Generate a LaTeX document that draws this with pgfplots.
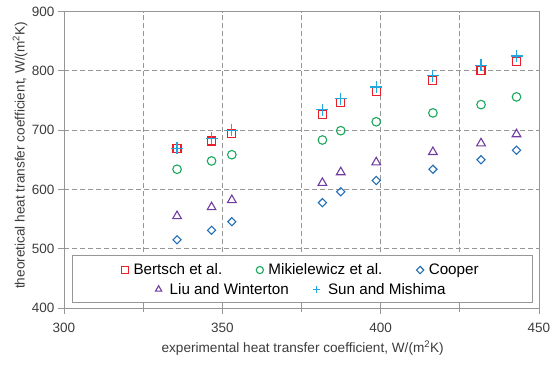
\documentclass[border=0pt]{standalone}
\usepackage{pgfplots}
\pgfplotsset{compat=1.18}
\usepackage{fontspec}
\setmainfont{Liberation Sans}
\definecolor{cB}{RGB}{232,32,42}
\definecolor{cM}{RGB}{26,168,92}
\definecolor{cC}{RGB}{31,110,182}
\definecolor{cL}{RGB}{112,60,160}
\definecolor{cS}{RGB}{33,168,222}
\definecolor{frame}{RGB}{150,150,150}
\definecolor{txt}{RGB}{60,60,60}
\pgfplotsset{
  legfont/.style={font=\fontsize{15.2}{18}\selectfont},
  myleg/.style={
    legend image code/.code={\path[##1] plot[mark size=3.6pt] coordinates {(4pt,0pt)};},
    legend image post style={line width=1.1pt},
  },
}
\begin{document}
\begin{tikzpicture}
\useasboundingbox (-64pt,-60pt) rectangle (486pt,308pt);
\begin{axis}[
  scale only axis, width=475pt, height=296.5pt,
  xmin=300, xmax=450, ymin=400, ymax=900,
  clip=false,
  xtick={300,350,400,450}, minor xtick={325,375,425},
  ytick={400,500,600,700,800,900},
  xmajorgrids, xminorgrids, ymajorgrids,
  grid style={frame, dash pattern=on 5pt off 3pt, line width=0.8pt},
  minor grid style={frame, dash pattern=on 5pt off 3pt, line width=0.8pt},
  axis line style={frame, line width=0.8pt},
  tick align=outside, tick pos=left,
  major tick length=6pt, minor tick length=4pt,
  every tick/.style={frame, line width=0.8pt},
  tick label style={font=\fontsize{13.5}{16}\selectfont, text=txt},
  xticklabel style={yshift=-6pt},
  /pgf/number format/assume math mode=true,
  xlabel={experimental heat transfer coefficient, W/(m\textsuperscript{2}K)},
  xlabel style={font=\fontsize{13.6}{16}\selectfont, text=txt, at={(axis description cs:0.5025,-0.135)}, anchor=center},
  ylabel={theoretical heat transfer coefficient, W/(m\textsuperscript{2}K)},
  ylabel style={font=\fontsize{13.6}{16}\selectfont, text=txt, at={(axis description cs:-0.0926,0.515)}, anchor=center},
  myleg,
  legend columns=3,
  legend style={at={(axis description cs:0.499,0.128)}, anchor=center, draw=none, fill=none, legfont,
    /tikz/every odd column/.append style={column sep=3pt},
    /tikz/every even column/.append style={column sep=32pt}},
  legend cell align=left,
]
\draw[frame, fill=white, line width=0.8pt] (rel axis cs:0.017,0.02) rectangle (rel axis cs:0.987,0.179);
\addplot[only marks, mark=square, mark size=4pt, color=cB, mark options={color=cB}, line width=1.1pt] coordinates {
(335.7,668.6) (346.6,681.6) (353.0,695) (381.6,726.6) (387.4,746) (398.6,764.8) (416.5,784) (431.7,800) (442.9,816)};
\addlegendentry{Bertsch et al.}
\addplot[only marks, mark=o, mark size=4.3pt, color=cM, mark options={color=cM}, line width=1.1pt] coordinates {
(335.7,634) (346.6,648) (353.0,658.5) (381.6,683.3) (387.4,699) (398.6,714) (416.5,729) (431.7,743) (442.9,756)};
\addlegendentry{Mikielewicz et al.}
\addplot[only marks, mark=square, mark size=4pt, color=cC, mark options={color=cC, rotate=45, scale=0.72}, line width=1.1pt] coordinates {
(335.7,515) (346.6,531) (353.0,545.5) (381.6,577.6) (387.4,596) (398.6,615) (416.5,634) (431.7,650) (442.9,666)};
\addlegendentry{Cooper}
\addplot[only marks, mark=triangle, mark size=5pt, color=cL, mark options={color=cL}, line width=1.1pt] coordinates {
(335.7,555) (346.6,570) (353.0,582) (381.6,611) (387.4,629) (398.6,645.7) (416.5,663) (431.7,677.7) (442.9,693)};
\addplot[only marks, mark=+, mark size=6pt, color=cS, mark options={color=cS}, line width=1.1pt] coordinates {
(335.7,669) (346.6,686) (353.0,700) (381.6,734) (387.4,753) (398.6,772.7) (416.5,792) (431.7,809) (442.9,825)};
\end{axis}
\begin{axis}[
  scale only axis, width=475pt, height=296.5pt,
  xmin=300, xmax=450, ymin=400, ymax=900,
  hide axis, myleg,
  legend columns=2,
  legend style={at={(axis description cs:0.5,0.063)}, anchor=center, draw=none, fill=none, legfont,
    /tikz/every odd column/.append style={column sep=6pt},
    /tikz/every even column/.append style={column sep=22pt}},
  legend cell align=left,
]
\addlegendimage{only marks, mark=triangle, color=cL, mark options={color=cL}, line width=1.1pt}
\addlegendentry{Liu and Winterton}
\addlegendimage{only marks, mark=+, color=cS, mark options={color=cS, line width=1.3pt}, line width=1.3pt}
\addlegendentry{Sun and Mishima}
\end{axis}
\end{tikzpicture}
\end{document}
